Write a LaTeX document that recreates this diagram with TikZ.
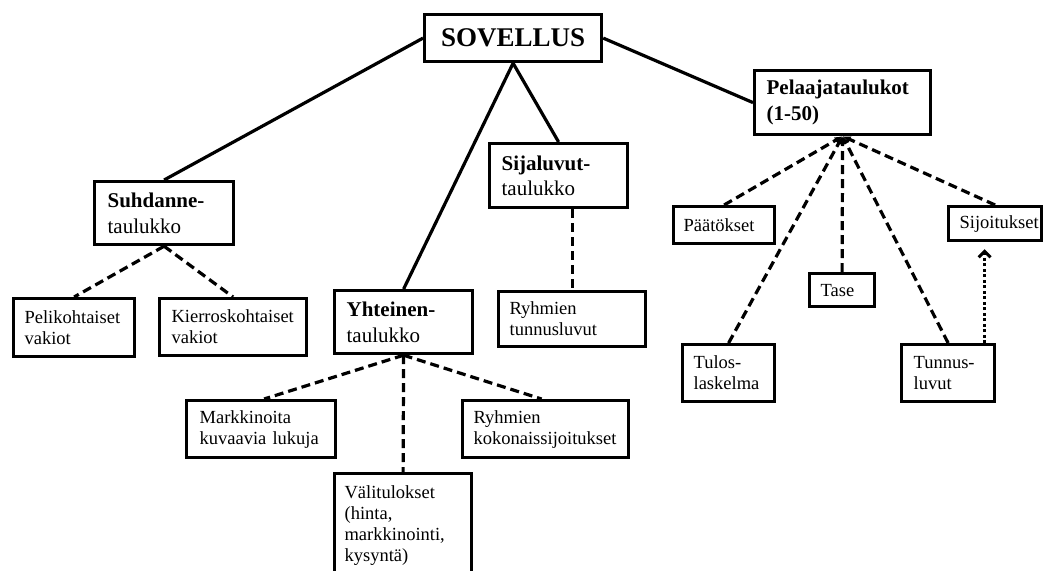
\documentclass[tikz,border=0pt]{standalone}
\usepackage{fontspec}
\setmainfont{Liberation Serif}
\usetikzlibrary{arrows.meta,calc}
\hyphenpenalty=10000
\exhyphenpenalty=10000
\begin{document}
\begin{tikzpicture}[x=1pt,y=-1pt,
  box/.style={draw, line width=3.2pt, anchor=north west, align=left,
    inner ysep=0pt, font=\fontsize{18.5}{21}\selectfont},
  head/.style={box, font=\fontsize{21}{25.5}\selectfont},
  link/.style={line width=3.2pt},
  dashlink/.style={line width=3.2pt, dash pattern=on 9pt off 5pt},
  feed/.style={dashlink, -{Latex[length=8pt,width=7pt]}},
  dotlink/.style={line width=3.4pt, dash pattern=on 3pt off 2.5pt,
    -{Straight Barb[length=6pt,width=12pt,line width=3pt]}, shorten >=7pt}
]
\useasboundingbox (0,0) rectangle (1048,570);

% top level
\node[box, align=center, font=\bfseries\fontsize{27}{30}\selectfont,
  minimum width=177pt, minimum height=47pt] (sov) at (423,13) {SOVELLUS};
\node[head, font=\bfseries\fontsize{21}{26}\selectfont,
  minimum width=176pt, minimum height=64pt, text width=152pt, inner xsep=12pt]
  (pel) at (753,69) {Pelaajataulukot\\(1-50)};

% second level tables
\node[head, minimum width=139pt, minimum height=63pt, text width=113pt, inner xsep=13pt]
  (suh) at (93,180) {\textbf{Suhdanne-}\\taulukko};
\node[head, minimum width=138pt, minimum height=64pt, text width=114pt, inner xsep=12pt]
  (sij) at (488,142) {\textbf{Sijaluvut-}\\taulukko};
\node[head, minimum width=138pt, minimum height=63pt, text width=114pt, inner xsep=12pt]
  (yht) at (333,289) {\textbf{Yhteinen-}\\taulukko};

% contents of the tables
\node[box, minimum width=121pt, minimum height=58pt, text width=99pt, inner xsep=11pt]
  (pk) at (12,297) {Pelikohtaiset\\vakiot};
\node[box, minimum width=147pt, minimum height=57pt, text width=123pt, inner xsep=12pt]
  (kk) at (158,297) {Kierroskohtaiset\\vakiot};
\node[box, minimum width=147pt, minimum height=55pt, text width=125pt, inner xsep=11pt]
  (rtl) at (497,290) {Ryhmien\\tunnusluvut};
\node[box, minimum width=149pt, minimum height=57pt, text width=123pt, inner xsep=13pt]
  (mk) at (185,399) {Markkinoita\\kuvaavia lukuja};
\node[box, minimum width=166pt, minimum height=57pt, text width=144pt, inner xsep=11pt]
  (rk) at (461,399) {Ryhmien\\kokonaissijoitukset};
\node[box, minimum width=137pt, minimum height=103pt, text width=117pt, inner xsep=10pt]
  (val) at (333,472) {Välitulokset\\(hinta,\\markkinointi,\\kysyntä)};

% player tables
\node[box, minimum width=101pt, minimum height=37pt, text width=81pt, inner xsep=10pt]
  (pa) at (672,205) {Päätökset};
\node[box, minimum width=93pt, minimum height=34pt, text width=71pt, inner xsep=11pt]
  (sijo) at (947,205) {Sijoitukset};
\node[box, minimum width=65pt, minimum height=33pt, text width=43pt, inner xsep=11pt]
  (tase) at (808,272) {Tase};
\node[box, minimum width=92pt, minimum height=57pt, text width=70pt, inner xsep=11pt]
  (tl) at (681,343) {Tulos-\\laskelma};
\node[box, minimum width=93pt, minimum height=57pt, text width=69pt, inner xsep=12pt]
  (tu) at (900,343) {Tunnus-\\luvut};

% solid links from the application
\draw[link] (sov.west) -- (suh.north);
\draw[link] (sov.south) -- (yht.north);
\draw[link] (sov.south) -- (sij.north);
\draw[link] (sov.east) -- (pel.west);

% dashed links to table contents
\draw[dashlink] (suh.south) -- (pk.north);
\draw[dashlink] (suh.south) -- (kk.north);
\draw[dashlink] (rtl.north |- sij.south) -- (rtl.north);
\draw[dashlink] (yht.south) -- ($(mk.north)+(3,0)$);
\draw[dashlink] (yht.south) -- (val.north);
\draw[dashlink] (yht.south) -- ($(rk.north)+(-4,0)$);

% player table inputs
\draw[feed] (pa.north) -- (pel.south);
\draw[feed] (tl.north) -- (pel.south);
\draw[feed] (tase.north) -- (pel.south);
\draw[feed] (tu.north) -- (pel.south);
\draw[feed] (sijo.north) -- (pel.south);

% ratios feed the placements
\coordinate (dt) at ($(sijo.south)+(-10.5,0)$);
\draw[dotlink] (dt |- tu.north) -- (dt);
\end{tikzpicture}
\end{document}
